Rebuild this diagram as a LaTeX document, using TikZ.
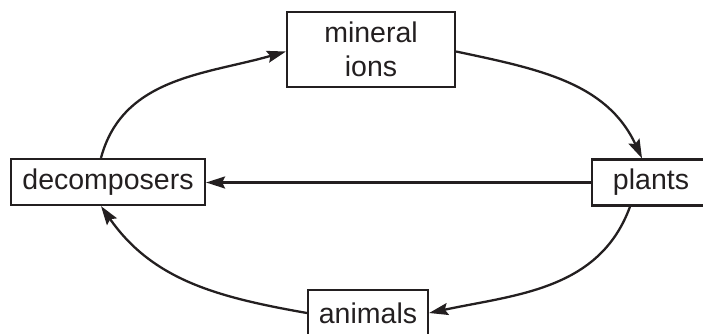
\documentclass[tikz,border=0pt]{standalone}
\usepackage{fontspec}
\setmainfont{Liberation Sans}
\usetikzlibrary{arrows.meta,calc}
\definecolor{ink}{HTML}{231F20}
\begin{document}
\begin{tikzpicture}[x=1pt,y=1pt,
  box/.style={draw=ink, line width=2.2pt, text=ink, inner sep=0pt,
    font=\fontsize{28.5}{34}\selectfont, align=center},
  flow/.style={draw=ink, line width=2.3pt,
    -{Stealth[length=19pt,width=12pt,inset=3pt]}}]
\useasboundingbox (0,0) rectangle (703,333);
\node[box, minimum width=168pt, minimum height=75pt] (min) at (371,283.5) {mineral\\ions};
\node[box, minimum width=194pt, minimum height=46pt] (dec) at (108,151) {decomposers};
\node[box, minimum width=118pt, minimum height=46pt] (pl) at (651,150.5) {plants};
\node[box, minimum width=120pt, minimum height=46pt] (ani) at (368,20) {animals};
\draw[flow] ([xshift=-7pt]dec.north) to[out=75,in=196] ([yshift=-2pt]min.west);
\draw[flow] ([yshift=-2pt]min.east) to[out=-12,in=115] ([xshift=-9pt]pl.north);
\draw[flow] (pl.west) -- (pl.west -| dec.east);
\draw[flow] ([xshift=-21pt]pl.south) to[out=250,in=12] (ani.east);
\draw[flow] (ani.west) to[out=170,in=305] ([xshift=-7pt]dec.south);
\end{tikzpicture}
\end{document}
